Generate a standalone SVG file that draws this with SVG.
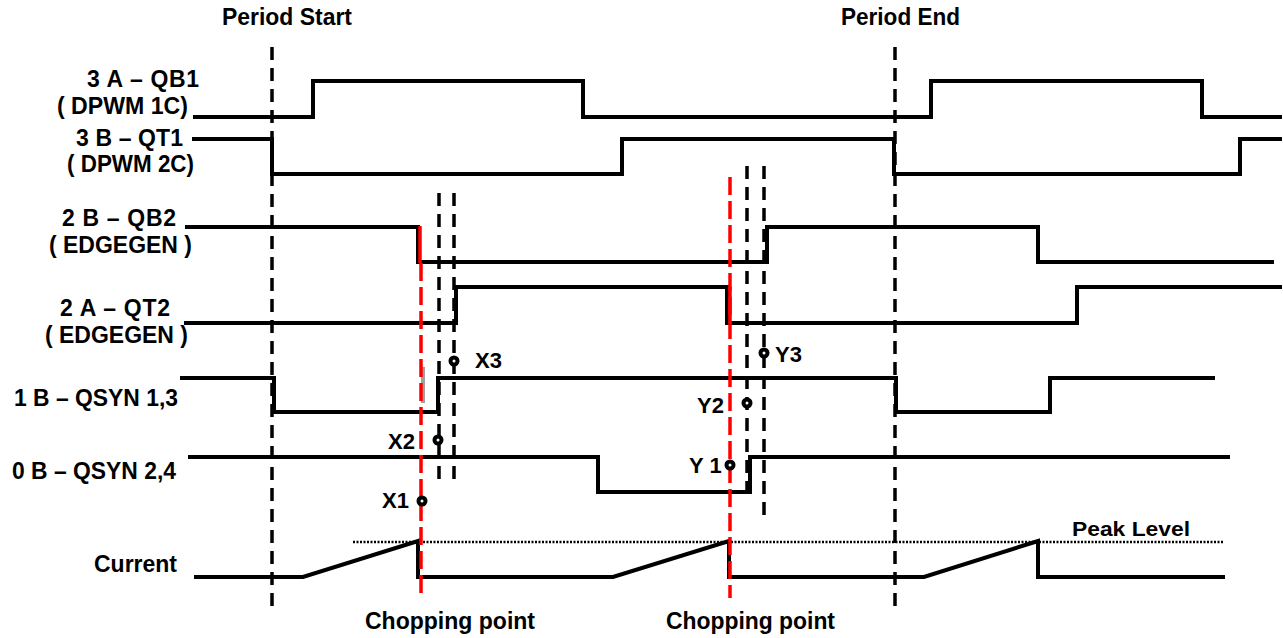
<svg xmlns="http://www.w3.org/2000/svg" width="1283" height="638" viewBox="0 0 1283 638">
<style>
.t{font-family:"Liberation Sans",Arial,sans-serif;font-weight:bold;font-size:23px;fill:#000}
.s{fill:none;stroke:#000;stroke-width:4;stroke-linejoin:miter;stroke-linecap:square}
.d{fill:none;stroke:#000;stroke-width:3.5;stroke-dasharray:13 8}
.r{fill:none;stroke:#ff0000;stroke-width:3.5;stroke-dasharray:18 6}
.rs{fill:none;stroke:#ff0000;stroke-width:3.5}
.m{fill:#fff;stroke:#000;stroke-width:4}
</style>
<rect width="1283" height="638" fill="#fff"/>
<g id="labels">
<text class="t" x="222" y="25" textLength="130" lengthAdjust="spacingAndGlyphs">Period Start</text>
<text class="t" x="841" y="25" textLength="119" lengthAdjust="spacingAndGlyphs">Period End</text>
<text class="t" x="87" y="87" textLength="112" lengthAdjust="spacing">3 A – QB1</text>
<text class="t" x="57" y="114" textLength="131" lengthAdjust="spacingAndGlyphs">( DPWM 1C)</text>
<text class="t" x="76" y="146" textLength="107" lengthAdjust="spacing">3 B – QT1</text>
<text class="t" x="67" y="172" textLength="127" lengthAdjust="spacingAndGlyphs">( DPWM 2C)</text>
<text class="t" x="62" y="226" textLength="114" lengthAdjust="spacing">2 B – QB2</text>
<text class="t" x="49" y="253" textLength="143" lengthAdjust="spacingAndGlyphs">( EDGEGEN )</text>
<text class="t" x="60" y="316" textLength="110" lengthAdjust="spacing">2 A – QT2</text>
<text class="t" x="45" y="343" textLength="143" lengthAdjust="spacingAndGlyphs">( EDGEGEN )</text>
<text class="t" x="14" y="406" textLength="164" lengthAdjust="spacingAndGlyphs">1 B – QSYN 1,3</text>
<text class="t" x="12" y="479" textLength="164" lengthAdjust="spacingAndGlyphs">0 B – QSYN 2,4</text>
<text class="t" x="94" y="572" textLength="83" lengthAdjust="spacingAndGlyphs">Current</text>
<text class="t" x="1072" y="536" textLength="118" lengthAdjust="spacingAndGlyphs" style="font-size:21px">Peak Level</text>
<text class="t" x="365" y="629" textLength="170" lengthAdjust="spacingAndGlyphs">Chopping point</text>
<text class="t" x="666" y="629" textLength="169" lengthAdjust="spacingAndGlyphs">Chopping point</text>
<text class="t" x="475" y="368" style="font-size:22px">X3</text>
<text class="t" x="388" y="449" style="font-size:22px">X2</text>
<text class="t" x="382" y="508" style="font-size:22px">X1</text>
<text class="t" x="775" y="362" style="font-size:22px">Y3</text>
<text class="t" x="697" y="413" style="font-size:22px">Y2</text>
<text class="t" x="689" y="473" style="font-size:22px">Y 1</text>
</g>
<g id="guides">
<line class="d" x1="272" y1="47" x2="272" y2="613"/>
<line class="d" x1="895" y1="47" x2="895" y2="613"/>
<line class="d" x1="439" y1="193" x2="439" y2="485"/>
<line class="d" x1="454" y1="193" x2="454" y2="485"/>
<line class="d" x1="747" y1="166" x2="747" y2="492"/>
<line class="d" x1="764" y1="166" x2="764" y2="520"/>
<line x1="353" y1="542" x2="1223" y2="542" stroke="#000" stroke-width="2.5" stroke-dasharray="2 1.5"/>
</g>
<g id="connectors">
<path id="QB1" class="s" d="M195 117H313V81H583V117H931V81H1202V117H1280"/>
<path id="QT1" class="s" d="M194 139H272V174H622V139H894V174H1240V139H1280"/>
<path id="QB2" class="s" d="M187 227H418V262H767V227H1038V262H1272"/>
<path id="QT2" class="s" d="M186 323H456V287H727V323H1077V287H1280"/>
<path id="QSYN13" class="s" d="M182 378H274V412H438V378H896V412H1050V378H1213"/>
<path id="QSYN24" class="s" d="M190 457H598V492H750V457H1228"/>
<path id="Current" class="s" d="M196 577H303L418 541V577H613L729 541V577H924L1038 541V577H1223"/>
</g>
<g id="chop">
<rect x="421" y="367" width="4" height="36" fill="#a0a0a0"/>
<line class="rs" x1="420" y1="226" x2="420" y2="263"/>
<line class="r" x1="421" y1="263" x2="421" y2="598"/>
<line class="r" x1="730" y1="177" x2="730" y2="598"/>
<line class="rs" x1="730" y1="287" x2="730" y2="323"/>
</g>
<g id="markers">
<circle class="m" cx="454" cy="361" r="3.5"/>
<circle class="m" cx="438" cy="440" r="3.5"/>
<circle class="m" cx="422" cy="501" r="3.5"/>
<circle class="m" cx="764" cy="353" r="3.5"/>
<circle class="m" cx="747" cy="403" r="3.5"/>
<circle class="m" cx="730" cy="465" r="3.5"/>
</g>
</svg>
